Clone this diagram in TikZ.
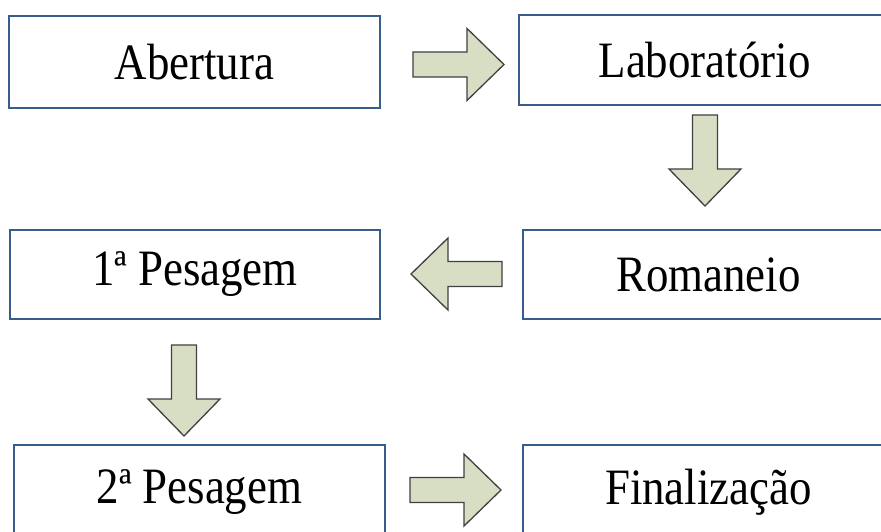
\documentclass[tikz,border=0pt]{standalone}
\usepackage{fontspec}
\setmainfont{Liberation Serif}[FakeStretch=0.88]
\definecolor{boxblue}{RGB}{56,93,138}
\definecolor{arrowfill}{RGB}{216,222,196}
\definecolor{arrowgray}{RGB}{64,64,64}
\tikzset{
  box/.style={draw=boxblue, line width=2.5pt, fill=white, inner sep=0pt, outer sep=0pt,
    font=\fontsize{51}{55}\selectfont},
  blockarrow/.pic={\draw[draw=arrowgray, fill=arrowfill, line width=1.3pt, line join=miter]
    (0,-12.5) -- (54,-12.5) -- (54,-36) -- (91,0) -- (54,36) -- (54,12.5) -- (0,12.5) -- cycle;}
}
\begin{document}
\begin{tikzpicture}[x=1pt,y=-1pt]
\useasboundingbox (0,0) rectangle (881,532);
\clip (0,0) rectangle (881,532);
\node[box, minimum width=371pt, minimum height=92pt] (abertura) at (194.5,62) {Abertura};
\node[box, minimum width=371pt, minimum height=90pt] (lab) at (704.5,60) {Laboratório};
\node[box, minimum width=370pt, minimum height=89pt] (pes1) at (195,274.5) {1ª Pesagem};
\node[box, minimum width=371pt, minimum height=89pt] (roman) at (708.5,274.5) {Romaneio};
\node[box, minimum width=371pt, minimum height=95pt] (pes2) at (199.5,492.5) {2ª Pesagem};
\node[box, minimum width=371pt, minimum height=95pt] (final) at (708.5,492.5) {Finalização};
\pic at (413,64.5) {blockarrow};
\pic[rotate=-90] at (705,115) {blockarrow};
\pic[rotate=180] at (502,274) {blockarrow};
\pic[rotate=-90] at (184,345) {blockarrow};
\pic at (410,490) {blockarrow};
\end{tikzpicture}
\end{document}
